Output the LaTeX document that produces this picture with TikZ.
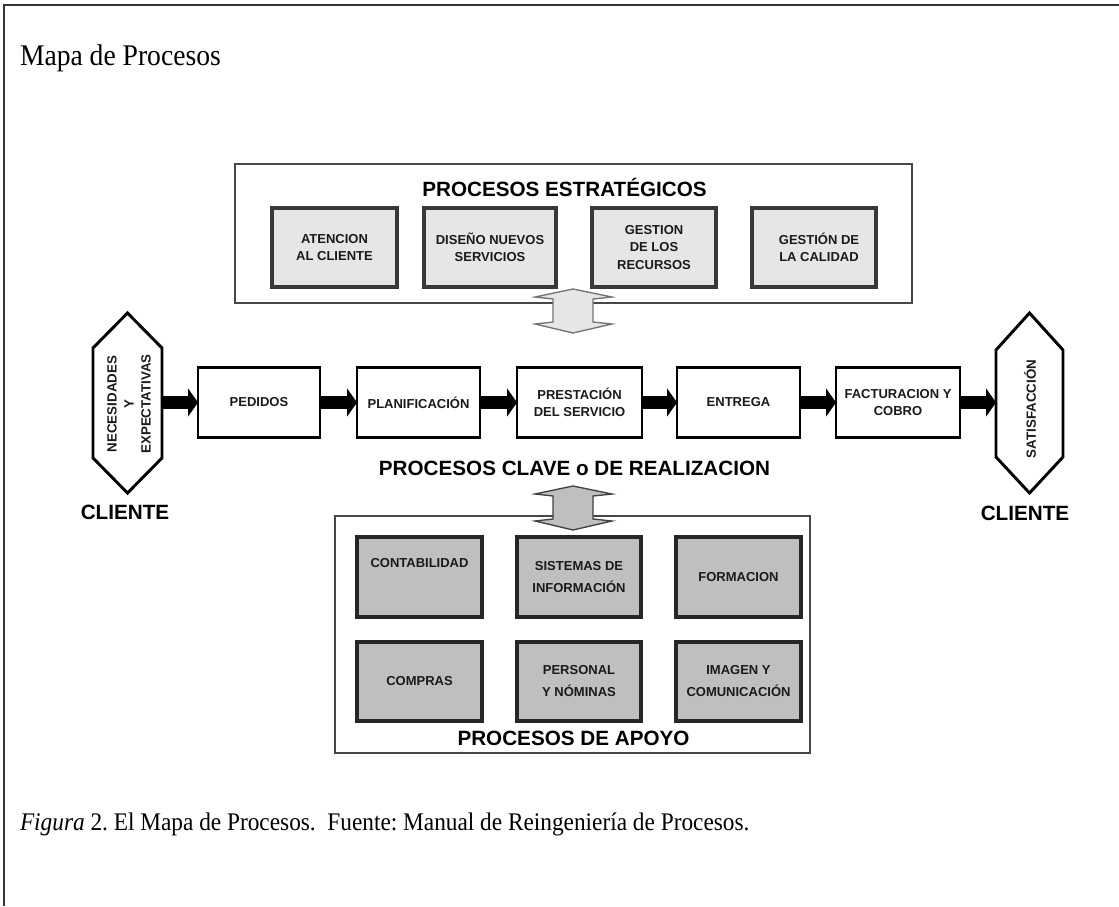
\documentclass[tikz,border=0pt]{standalone}
\usepackage{fontspec}
\setmainfont{Liberation Serif}
\newfontfamily\arialfont{Liberation Sans}
\usetikzlibrary{arrows.meta,calc}

\definecolor{stratfill}{HTML}{E6E6E6}
\definecolor{supfill}{HTML}{BFBFBF}
\definecolor{txt}{HTML}{1A1A1A}

\begin{document}
\frenchspacing
\begin{tikzpicture}[x=0.75pt,y=-0.75pt,
  every node/.style={inner sep=0pt, outer sep=0pt},
  lbl/.style={font=\arialfont\bfseries\fontsize{9.75}{13}\selectfont, align=center, text=txt},
  heading/.style={font=\arialfont\bfseries\fontsize{15.5}{18}\selectfont, text=black},
  group/.style={draw=black!72, line width=1.5pt},
  stratbox/.style={lbl, draw=black!78, line width=2.4pt, fill=stratfill},
  keybox/.style={lbl, draw=black, line width=2.2pt, fill=white},
  supbox/.style={lbl, draw=black!85, line width=2.4pt, fill=supfill,
     font=\arialfont\bfseries\fontsize{9.75}{16.5}\selectfont},
  hexbox/.style={minimum width=#1, minimum height=135pt},
  hexline/.style={draw=black, line width=2.2pt, line join=miter},
  hextext/.style={lbl, rotate=90, font=\arialfont\bfseries\fontsize{10}{12.75}\selectfont},
  flow/.style={line width=9.75pt, black,
     -{Triangle[length=7.5pt,width=21pt,line width=0.1pt]}},
  dblarrow/.style={line width=1pt, line join=miter},
  serif/.style={anchor=base west, xscale=0.92},
]
\useasboundingbox (0,0) rectangle (1119,906);

% page frame
\draw[black!80, line width=1.5pt] (4,906) -- (4,5) -- (1119,5);

% title and caption
\node[serif, font=\fontsize{22.5}{26}\selectfont] (title) at (20,65) {Mapa de Procesos};
\node[serif, font=\fontsize{19}{22}\selectfont] (caption) at (20,830)
  {\textit{Figura} 2. El Mapa de Procesos.\ \ Fuente: Manual de Reingeniería de Procesos.};

% strategic processes
\node[group, minimum width=507.75pt, minimum height=104.25pt] (strat) at (573.5,233.5) {};
\node[heading] (stratT) at (564.5,187) {PROCESOS ESTRATÉGICOS};
\node[stratbox, minimum width=93.75pt, minimum height=59.25pt] (s1) at (334.5,247.5) {ATENCION\\AL CLIENTE};
\node[stratbox, minimum width=99pt, minimum height=59.25pt] (s2) at (490,247.5) {DISEÑO NUEVOS\\SERVICIOS};
\node[stratbox, minimum width=93pt, minimum height=59.25pt] (s3) at (654,247.5) {GESTION\\DE LOS\\RECURSOS};
\node[stratbox, minimum width=93pt, minimum height=59.25pt] (s4) at (814,247.5) {};
\node[lbl] (s4T) at (819,247.5) {GESTIÓN DE\\LA CALIDAD};

% double arrow strategic <-> key processes
\filldraw[dblarrow, fill=stratfill, draw=black!55]
  (573,289) -- (612,297) -- (593,299) -- (593,322) -- (612,324) -- (573,333)
  -- (535,324) -- (553,322) -- (553,299) -- (535,297) -- cycle;

% key processes
\node[hexbox=51.75pt] (hexL) at (127.5,403) {};
\draw[hexline] (hexL.north) -- ($(hexL.north east)+(0,35)$) -- ($(hexL.south east)+(0,-35)$)
  -- (hexL.south) -- ($(hexL.south west)+(0,-35)$) -- ($(hexL.north west)+(0,35)$) -- cycle;
\node[hextext] (hexLT) at (129,404) {NECESIDADES\\Y\\EXPECTATIVAS};

\node[keybox, minimum width=91.5pt, minimum height=52.5pt] (k1) at (259,402.5) {PEDIDOS};
\node[keybox, minimum width=92.25pt, minimum height=52.5pt] (k2) at (418.5,402.5) {PLANIFICACIÓN};
\node[keybox, minimum width=93.75pt, minimum height=52.5pt] (k3) at (579.5,402.5) {PRESTACIÓN\\DEL SERVICIO};
\node[keybox, minimum width=92.25pt, minimum height=52.5pt] (k4) at (738.5,402.5) {ENTREGA};
\node[keybox, minimum width=93pt, minimum height=52.5pt] (k5) at (898,402.5) {FACTURACION Y\\COBRO};

\node[hexbox=50.25pt] (hexR) at (1029.5,403) {};
\draw[hexline] (hexR.north) -- ($(hexR.north east)+(0,37)$) -- ($(hexR.south east)+(0,-36)$)
  -- (hexR.south) -- ($(hexR.south west)+(0,-36)$) -- ($(hexR.north west)+(0,37)$) -- cycle;
\node[hextext] (hexRT) at (1030,409) {SATISFACCIÓN};

\draw[flow] (hexL.east |- k1.west) -- (k1.west);
\draw[flow] (k1.east) -- (k2.west);
\draw[flow] (k2.east) -- (k3.west);
\draw[flow] (k3.east) -- (k4.west);
\draw[flow] (k4.east) -- (k5.west);
\draw[flow] (k5.east) -- (hexR.west |- k5.east);

\node[heading] (cliL) at (125,512) {CLIENTE};
\node[heading] (cliR) at (1025,513) {CLIENTE};
\node[heading] (keyT) at (574.5,468) {PROCESOS CLAVE o DE REALIZACION};

% support processes
\node[group, minimum width=356.25pt, minimum height=177.75pt] (sup) at (572.5,634.5) {};
\filldraw[dblarrow, fill=supfill, draw=black!75]
  (573,486) -- (612,494) -- (593,496) -- (593,519) -- (612,521) -- (573,530)
  -- (535,521) -- (553,519) -- (553,496) -- (535,494) -- cycle;

\node[supbox, minimum width=93.75pt, minimum height=60pt] (p1) at (419.5,577) {CONTABILIDAD\\[4pt]\mbox{}};
\node[supbox, minimum width=93pt, minimum height=60pt] (p2) at (579,577) {SISTEMAS DE\\INFORMACIÓN};
\node[supbox, minimum width=93.75pt, minimum height=60pt] (p3) at (738.5,577) {FORMACION};
\node[supbox, minimum width=93.75pt, minimum height=59.25pt] (p4) at (419.5,681.5) {COMPRAS};
\node[supbox, minimum width=93pt, minimum height=59.25pt] (p5) at (579,681.5) {PERSONAL\\Y NÓMINAS};
\node[supbox, minimum width=93.75pt, minimum height=59.25pt] (p6) at (738.5,681.5) {IMAGEN Y\\COMUNICACIÓN};
\node[heading] (supT) at (573.5,738) {PROCESOS DE APOYO};
\end{tikzpicture}
\end{document}
